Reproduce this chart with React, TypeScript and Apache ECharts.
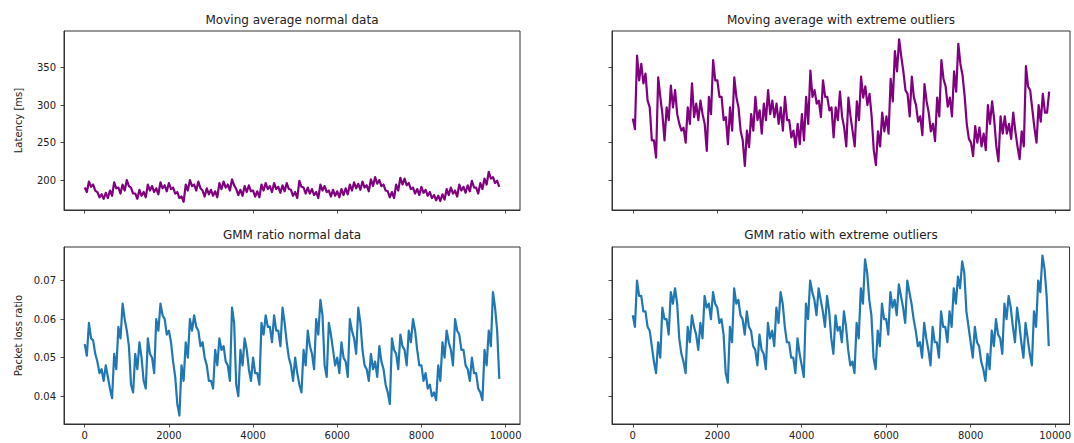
import React, { useEffect, useRef } from "react";
import * as echarts from "echarts";

// Values at sample indices 100*i (…A) and 100*i + 50 (…B)
const SAMPLE_STEP = 100;
const HALF_STEP = 50;

const xTicks = [0, 2000, 4000, 6000, 8000, 10000];
const latencyTicks = [200, 250, 300, 350];
const lossTicks = [0.04, 0.05, 0.06, 0.07];

const panelTitles = [
  "Moving average normal data",
  "Moving average with extreme outliers",
  "GMM ratio normal data",
  "GMM ratio with extreme outliers",
];
const latencyLabel = "Latency [ms]";
const lossLabel = "Packet loss ratio";

const maNormalA = [
  190, 198, 194, 184, 181, 183, 186, 197, 190, 194,
  200, 190, 182, 187, 184, 194, 192, 189, 197, 193,
  196, 190, 184, 178, 194, 200, 194, 198, 186, 189,
  187, 185, 196, 198, 194, 201, 188, 187, 192, 193,
  186, 185, 194, 196, 192, 196, 191, 193, 196, 187,
  184, 199, 190, 190, 188, 184, 194, 192, 186, 187,
  185, 188, 189, 194, 197, 195, 198, 193, 201, 204,
  200, 194, 185, 184, 194, 203, 202, 196, 190, 188,
  191, 187, 184, 180, 179, 181, 188, 190, 186, 194,
  191, 193, 199, 190, 196, 202, 211, 204, 199,
];
const maNormalB = [
  184, 191, 186, 177, 175, 176, 179, 189, 182, 186,
  192, 182, 175, 179, 177, 186, 184, 181, 189, 185,
  188, 182, 176, 171, 186, 192, 186, 189, 178, 181,
  179, 177, 188, 190, 186, 193, 180, 179, 184, 185,
  178, 177, 186, 188, 184, 188, 183, 185, 188, 179,
  176, 191, 182, 182, 180, 176, 186, 184, 178, 179,
  177, 180, 181, 186, 189, 187, 190, 185, 192, 195,
  192, 186, 177, 176, 186, 194, 193, 188, 182, 180,
  183, 179, 176, 173, 172, 174, 180, 182, 178, 186,
  183, 185, 190, 182, 188, 194, 202, 196, 191,
];

const maOutliersA = [
  282, 366, 355, 342, 297, 253, 337, 288, 297, 326,
  320, 275, 270, 297, 329, 302, 306, 275, 311, 360,
  333, 311, 284, 297, 337, 297, 253, 266, 288, 311,
  293, 302, 320, 306, 302, 297, 311, 280, 266, 275,
  288, 311, 346, 320, 306, 333, 311, 297, 297, 318,
  270, 310, 265, 305, 338, 325, 315, 240, 265, 290,
  285, 335, 372, 388, 345, 315, 338, 300, 285, 328,
  290, 275, 310, 360, 325, 310, 345, 382, 340, 275,
  250, 272, 270, 262, 300, 305, 245, 285, 285, 275,
  290, 245, 265, 352, 320, 270, 300, 315, 290,
];
const maOutliersB = [
  268, 333, 329, 306, 253, 230, 311, 253, 280, 297,
  288, 266, 250, 275, 284, 280, 288, 239, 288, 333,
  311, 280, 248, 266, 311, 266, 219, 244, 266, 280,
  262, 280, 288, 284, 275, 266, 280, 257, 244, 248,
  253, 275, 311, 302, 284, 311, 293, 257, 280, 285,
  245, 285, 245, 280, 310, 300, 285, 220, 245, 265,
  262, 305, 345, 365, 320, 285, 310, 278, 260, 305,
  265, 252, 285, 335, 298, 285, 318, 355, 312, 255,
  232, 250, 245, 240, 275, 280, 225, 262, 262, 255,
  265, 228, 245, 325, 295, 250, 278, 290, 318,
];

const gmmNormalA = [
  0.0535, 0.059, 0.0545, 0.049, 0.047, 0.048, 0.042, 0.051, 0.058, 0.064,
  0.057, 0.043, 0.051, 0.054, 0.044, 0.055, 0.05, 0.06, 0.064, 0.06,
  0.057, 0.049, 0.038, 0.048, 0.054, 0.06, 0.061, 0.057, 0.054, 0.048,
  0.044, 0.052, 0.055, 0.053, 0.048, 0.063, 0.043, 0.052, 0.055, 0.047,
  0.05, 0.046, 0.059, 0.061, 0.058, 0.061, 0.057, 0.063, 0.054, 0.048,
  0.05, 0.043, 0.052, 0.057, 0.051, 0.06, 0.065, 0.048, 0.059, 0.052,
  0.05, 0.054, 0.049, 0.06, 0.055, 0.063, 0.052, 0.047, 0.051, 0.049,
  0.053, 0.047, 0.041, 0.055, 0.051, 0.056, 0.052, 0.057, 0.06, 0.052,
  0.048, 0.046, 0.043, 0.041, 0.048, 0.054, 0.057, 0.052, 0.06, 0.056,
  0.052, 0.047, 0.05, 0.046, 0.041, 0.052, 0.057, 0.067, 0.057,
];
const gmmNormalB = [
  0.0505, 0.055, 0.051, 0.046, 0.044, 0.045, 0.0395, 0.047, 0.055, 0.06,
  0.053, 0.041, 0.047, 0.05, 0.042, 0.051, 0.046, 0.057, 0.061, 0.056,
  0.054, 0.045, 0.035, 0.044, 0.05, 0.057, 0.058, 0.053, 0.05, 0.044,
  0.042, 0.048, 0.052, 0.049, 0.044, 0.059, 0.04, 0.048, 0.052, 0.044,
  0.046, 0.043, 0.056, 0.058, 0.054, 0.057, 0.053, 0.059, 0.05, 0.044,
  0.046, 0.041, 0.048, 0.053, 0.047, 0.056, 0.061, 0.045, 0.056, 0.048,
  0.046, 0.05, 0.045, 0.057, 0.051, 0.059, 0.048, 0.044, 0.047, 0.045,
  0.049, 0.043, 0.038, 0.052, 0.047, 0.053, 0.048, 0.054, 0.057, 0.048,
  0.044, 0.042, 0.04, 0.039, 0.044, 0.05, 0.054, 0.048, 0.057, 0.052,
  0.048, 0.044, 0.046, 0.042, 0.039, 0.048, 0.053, 0.063, 0.0445,
];

const gmmOutliersA = [
  0.061, 0.07, 0.066, 0.062, 0.057, 0.049, 0.054, 0.063, 0.06, 0.067,
  0.068, 0.055, 0.049, 0.058, 0.061, 0.056, 0.059, 0.066, 0.064, 0.067,
  0.063, 0.06, 0.046, 0.058, 0.068, 0.065, 0.06, 0.062, 0.057, 0.052,
  0.056, 0.051, 0.059, 0.057, 0.063, 0.067, 0.058, 0.054, 0.05, 0.055,
  0.048, 0.064, 0.07, 0.065, 0.068, 0.062, 0.066, 0.055, 0.061, 0.058,
  0.062, 0.052, 0.049, 0.059, 0.068, 0.0755, 0.065, 0.05, 0.057, 0.064,
  0.06, 0.067, 0.065, 0.069, 0.063, 0.07, 0.064, 0.057, 0.054, 0.059,
  0.052, 0.058, 0.054, 0.062, 0.058, 0.062, 0.068, 0.071, 0.075, 0.062,
  0.054, 0.058, 0.053, 0.047, 0.051, 0.057, 0.06, 0.055, 0.064, 0.066,
  0.058, 0.063, 0.054, 0.059, 0.051, 0.062, 0.07, 0.0765, 0.066,
];
const gmmOutliersB = [
  0.058, 0.066, 0.062, 0.058, 0.053, 0.046, 0.05, 0.06, 0.056, 0.064,
  0.064, 0.051, 0.046, 0.054, 0.058, 0.052, 0.055, 0.063, 0.06, 0.064,
  0.059, 0.056, 0.0435, 0.054, 0.064, 0.061, 0.056, 0.058, 0.053, 0.048,
  0.052, 0.047, 0.055, 0.053, 0.059, 0.064, 0.054, 0.05, 0.046, 0.051,
  0.045, 0.06, 0.067, 0.061, 0.065, 0.058, 0.062, 0.051, 0.057, 0.054,
  0.058, 0.048, 0.046, 0.055, 0.064, 0.072, 0.061, 0.047, 0.053, 0.06,
  0.056, 0.063, 0.061, 0.066, 0.059, 0.067, 0.06, 0.053, 0.05, 0.055,
  0.048, 0.054, 0.05, 0.058, 0.054, 0.058, 0.064, 0.068, 0.072, 0.058,
  0.05, 0.054, 0.049, 0.044, 0.047, 0.053, 0.056, 0.051, 0.06, 0.063,
  0.054, 0.059, 0.05, 0.055, 0.048, 0.058, 0.067, 0.073, 0.053,
];

const PURPLE = "#800080";
const BLUE = "#1f77b4";
const TEXT = "#222";
const FONT = "DejaVu Sans";

function interleave(a: number[], b: number[]) {
  const out: number[][] = [];
  for (let i = 0; i < a.length; i++) {
    out.push([i * SAMPLE_STEP, a[i]]);
    out.push([i * SAMPLE_STEP + HALF_STEP, b[i]]);
  }
  return out;
}

export default function App() {
  const ref = useRef<HTMLDivElement>(null);
  useEffect(() => {
    if (!ref.current) return;
    const chart = echarts.init(ref.current, undefined, { renderer: "svg" });

    const grids = [
      { left: 64, top: 31, width: 456, height: 179 },
      { left: 612, top: 31, width: 458, height: 179 },
      { left: 64, top: 247, width: 456, height: 177 },
      { left: 612, top: 247, width: 458, height: 177 },
    ];
    const tickStyle = { color: "#222", width: 0.8 };
    const xAxes = grids.map((_, i) => ({
      type: "value",
      gridIndex: i,
      min: -492.5,
      max: 10342.5,
      splitLine: { show: false },
      axisLine: { show: true, onZero: false, lineStyle: { color: "#333", width: 1 } },
      axisTick: { show: true, customValues: xTicks, length: 3.5, lineStyle: tickStyle },
      axisLabel: {
        show: i >= 2,
        customValues: xTicks,
        margin: 6,
        fontFamily: FONT,
        fontSize: 10,
        color: TEXT,
        formatter: (v: number) => String(v),
      },
    }));
    const yAxes = grids.map((_, i) => {
      const top = i < 2;
      const ticks = top ? latencyTicks : lossTicks;
      return {
        type: "value",
        gridIndex: i,
        min: top ? 160 : 0.0328,
        max: top ? 399 : 0.0787,
        splitLine: { show: false },
        axisLine: { show: true, onZero: false, lineStyle: { color: "#333", width: 1 } },
        axisTick: { show: true, customValues: ticks, length: 3.5, lineStyle: tickStyle },
        axisLabel: {
          show: i % 2 === 0,
          customValues: ticks,
          margin: 8,
          fontFamily: FONT,
          fontSize: 10,
          color: TEXT,
          formatter: (v: number) => (top ? String(v) : v.toFixed(2)),
        },
      };
    });

    const datasets = [
      interleave(maNormalA, maNormalB),
      interleave(maOutliersA, maOutliersB),
      interleave(gmmNormalA, gmmNormalB),
      interleave(gmmOutliersA, gmmOutliersB),
    ];
    const series = datasets.map((data, i) => ({
      type: "line",
      xAxisIndex: i,
      yAxisIndex: i,
      data,
      showSymbol: false,
      symbol: "none",
      lineStyle: { width: 2.2, color: i < 2 ? PURPLE : BLUE, join: "round" },
      itemStyle: { color: i < 2 ? PURPLE : BLUE },
    }));

    const graphic: any[] = grids.map((g, i) => ({
      type: "text",
      x: g.left + g.width / 2,
      y: i < 2 ? 20 : 235,
      style: {
        text: panelTitles[i],
        fontFamily: FONT,
        fontSize: 12,
        fill: TEXT,
        textAlign: "center",
        textVerticalAlign: "middle",
      },
    }));
    graphic.push(
      {
        type: "text",
        x: 18,
        y: 120.5,
        rotation: Math.PI / 2,
        style: {
          text: latencyLabel,
          fontFamily: FONT,
          fontSize: 10,
          fill: TEXT,
          textAlign: "center",
          textVerticalAlign: "middle",
        },
      },
      {
        type: "text",
        x: 18,
        y: 335.5,
        rotation: Math.PI / 2,
        style: {
          text: lossLabel,
          fontFamily: FONT,
          fontSize: 10,
          fill: TEXT,
          textAlign: "center",
          textVerticalAlign: "middle",
        },
      }
    );

    chart.setOption({
      animation: false,
      backgroundColor: "#fff",
      grid: grids.map((g) => ({ ...g, show: true, borderColor: "#333", borderWidth: 1, backgroundColor: "transparent" })),
      xAxis: xAxes,
      yAxis: yAxes,
      series,
      graphic,
    });
    return () => chart.dispose();
  }, []);
  return (
    <div
      ref={ref}
      style={{ position: "absolute", left: 0, top: 0, width: 1074, height: 443 }}
    />
  );
}
